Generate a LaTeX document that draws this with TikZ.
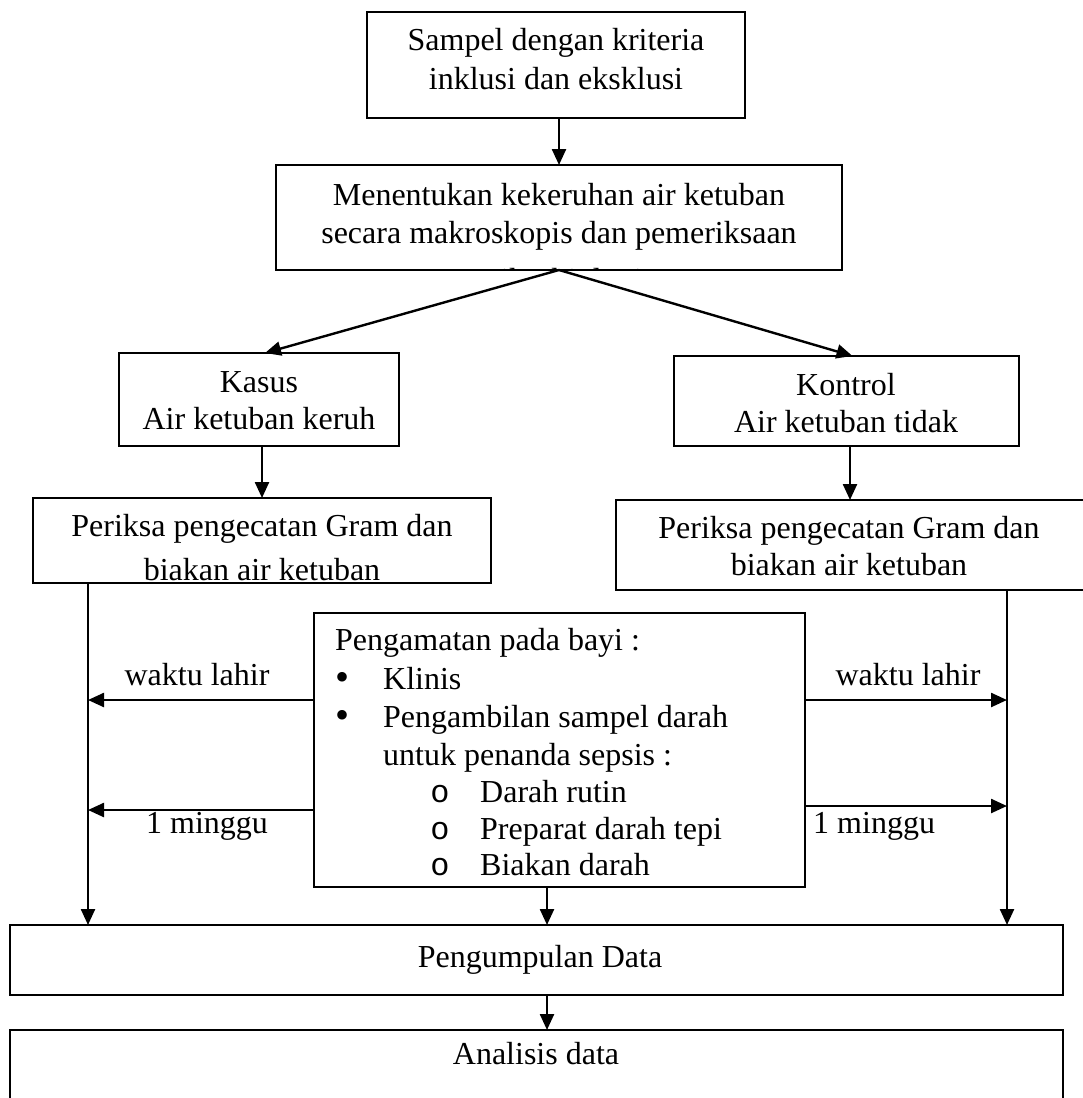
\documentclass[tikz,border=0pt]{standalone}
\usepackage{fontspec}
\setmainfont{Liberation Serif}
\newfontfamily\monof{Liberation Mono}
\usetikzlibrary{arrows.meta}
\begin{document}
\begin{tikzpicture}[x=1pt,y=-1pt,
 box/.style={draw, line width=2pt, inner sep=0pt, outer sep=0pt, anchor=north west},
 t/.style={font=\fontsize{32}{38}\selectfont, inner sep=0pt, anchor=base},
 tl/.style={t, anchor=base west},
 bul/.style={t, font=\fontsize{40}{38}\selectfont},
 circ/.style={t, font=\fontsize{32}{38}\monof},
 arr/.style={line width=2.4pt, -{Triangle[length=16pt,width=14pt]}}]
\useasboundingbox (0,0) rectangle (1082,1098);
% boxes
\node[box, minimum width=378pt, minimum height=106pt] (b1) at (367,12) {};
\node[box, minimum width=566pt, minimum height=105pt] (b2) at (276,165) {};
\node[box, minimum width=280pt, minimum height=93pt] (kasus) at (119,353) {};
\node[box, minimum width=345pt, minimum height=90pt] (kontrol) at (674,356) {};
\node[box, minimum width=458pt, minimum height=85pt] (pl) at (33,498) {};
\node[box, minimum width=468pt, minimum height=90pt] (pr) at (616,500) {};
\node[box, minimum width=491pt, minimum height=274pt] (mid) at (314,613) {};
\node[box, minimum width=1053pt, minimum height=70pt] (pd) at (10,925) {};
\node[box, minimum width=1053pt, minimum height=90pt] (an) at (10,1030) {};
% texts
\node[t] (b1a) at (556,50) {Sampel dengan kriteria};
\node[t] (b1b) at (556,89) {inklusi dan eksklusi};
\begin{scope}
\clip ([xshift=1pt,yshift=-1pt]b2.north west) rectangle ([xshift=-1pt,yshift=1pt]b2.south east);
\node[t] (b2a) at (559,205) {Menentukan kekeruhan air ketuban};
\node[t] (b2b) at (559,243) {secara makroskopis dan pemeriksaan};
\node[t] (b2c) at (559,290) {mikrobiologi};
\end{scope}
\node[t] (ka) at (259,392) {Kasus};
\node[t] (kb) at (259,429) {Air ketuban keruh};
\node[t] (koa) at (846,395) {Kontrol};
\node[t] (kob) at (846,432) {Air ketuban tidak};
\begin{scope}
\clip ([xshift=1pt,yshift=-1pt]pl.north west) rectangle ([xshift=-1pt,yshift=3pt]pl.south east);
\node[t] (pla) at (262,536) {Periksa pengecatan Gram dan};
\node[t] (plb) at (262,580) {biakan air ketuban};
\end{scope}
\node[t] (pra) at (849,538) {Periksa pengecatan Gram dan};
\node[t] (prb) at (849,575) {biakan air ketuban};
\node[tl] (m0) at (335,650) {Pengamatan pada bayi :};
\node[bul] (m1b) at (342,690) {•};
\node[tl] (m1) at (383,689) {Klinis};
\node[bul] (m2b) at (342,728) {•};
\node[tl] (m2) at (383,727) {Pengambilan sampel darah};
\node[tl] (m3) at (383,765) {untuk penanda sepsis :};
\node[circ] (m4b) at (440,802) {o};
\node[tl] (m4) at (480,802) {Darah rutin};
\node[circ] (m5b) at (440,839) {o};
\node[tl] (m5) at (480,839) {Preparat darah tepi};
\node[circ] (m6b) at (440,875) {o};
\node[tl] (m6) at (480,875) {Biakan darah};
\node[t] (lw1) at (197,685) {waktu lahir};
\node[t] (rw1) at (908,685) {waktu lahir};
\node[t] (lm1) at (207,833) {1 minggu};
\node[tl] (rm1) at (813,833) {1 minggu};
\node[t] (pdt) at (540,967) {Pengumpulan Data};
\node[t] (ant) at (536,1064) {Analisis data};
% coordinates
\coordinate (lx) at (88,0);
\coordinate (rx) at (1007,0);
\coordinate (cx) at (547,0);
\coordinate (lw) at (88,700);
\coordinate (lm) at (88,810);
\coordinate (rw) at (1007,700);
\coordinate (rm) at (1007,806);
% connectors
\draw[arr] (b1.south -| b2.north) -- (b2.north);
\draw[arr] (b2.south) -- ([xshift=6pt]kasus.north);
\draw[arr] (b2.south) -- ([xshift=6pt]kontrol.north);
\draw[arr] (kasus.south -| pl.north) -- (pl.north);
\draw[arr] (kontrol.south -| pr.north) -- (pr.north);
\draw[arr] (pl.south -| lx) -- (pd.north -| lx);
\draw[arr] (pr.south -| rx) -- (pd.north -| rx);
\draw[arr] (mid.west |- lw) -- (lw);
\draw[arr] (mid.west |- lm) -- (lm);
\draw[arr] (mid.east |- rw) -- (rw);
\draw[arr] (mid.east |- rm) -- (rm);
\draw[arr] (mid.south -| cx) -- (pd.north -| cx);
\draw[arr] (pd.south -| cx) -- (an.north -| cx);
\end{tikzpicture}
\end{document}
